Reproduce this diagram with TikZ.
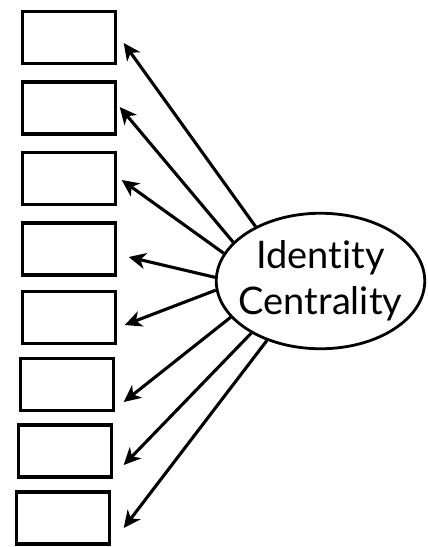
\documentclass[tikz,border=0pt]{standalone}
\usepackage{fontspec}
\setmainfont{Lato}[Ligatures=NoCommon]
\usetikzlibrary{arrows.meta,shapes.geometric,calc}

\begin{document}
\begin{tikzpicture}[x=1pt, y=-1pt, >={Stealth[length=17pt,width=16pt,inset=5pt]},
  item/.style={rectangle, draw, line width=3.4pt, minimum width=93pt,
               minimum height=52pt, inner sep=0pt},
  factor/.style={ellipse, draw, line width=2.8pt, minimum width=208.5pt,
                 minimum height=135.5pt, inner xsep=-10pt, inner ysep=0pt,
                 align=center, font=\fontsize{38}{46}\selectfont},
  load/.style={->, line width=3.1pt}]
  \useasboundingbox (0,0) rectangle (428,547);
  % indicators
  \node[item] (b1) at (69,37.5)  {};
  \node[item] (b2) at (69,108)   {};
  \node[item] (b3) at (69,178.5) {};
  \node[item] (b4) at (69,249)   {};
  \node[item] (b5) at (69,317.5) {};
  \node[item] (b6) at (67,384.5) {};
  \node[item] (b7) at (65,451)   {};
  \node[item] (b8) at (63,518)   {};
  % latent factor
  \node[factor] (ic) at (320.5,281) {Identity\\Centrality};
  % loadings
  \draw[load] (ic.140) -- ($(b1.east)+(6.5,5.5)$);
  \draw[load] (ic.156) -- ($(b2.east)+(2.5,-1)$);
  \draw[load] (ic.164) -- ($(b3.east)+(4.5,1.5)$);
  \draw[load] (ic.178) -- ($(b4.east)+(11.5,8)$);
  \draw[load] (ic.185) -- ($(b5.east)+(7.5,7.5)$);
  \draw[load] (ic.202) -- ($(b6.east)+(8.5,17.5)$);
  \draw[load] (ic.217) -- ($(b7.east)+(10.5,14)$);
  \draw[load] (ic.228) -- ($(b8.east)+(12.5,10)$);
\end{tikzpicture}
\end{document}
